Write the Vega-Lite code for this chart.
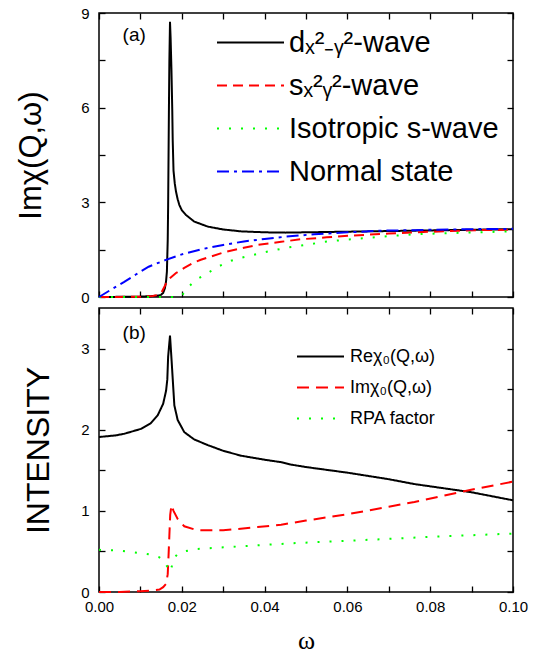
{
  "$schema": "https://vega.github.io/schema/vega-lite/v6.json",
  "padding": {"left": 14, "top": 5, "right": 5, "bottom": 5},
  "spacing": 0,
  "resolve": {"scale": {"color": "independent", "strokeDash": "independent"}, "legend": {"color": "independent", "strokeDash": "independent"}},
  "config": {
    "font": "Liberation Sans",
    "view": {"stroke": "black", "strokeWidth": 1.5},
    "axis": {
      "domain": false,
      "grid": false,
      "labelFont": "Liberation Sans",
      "labelFontSize": 15,
      "labelColor": "black",
      "labelFlush": false,
      "labelOverlap": false,
      "tickColor": "black",
      "tickWidth": 1.3,
      "tickSize": -6,
      "labelPadding": 16,
      "titleColor": "black",
      "titleFontWeight": "normal",
      "titleFont": "Liberation Sans"
    },
    "legend": {
      "labelFont": "Liberation Sans",
      "labelColor": "black",
      "labelLimit": 400,
      "symbolType": "stroke",
      "symbolStrokeWidth": 2
    }
  },
  "datasets": {
    "a": [
      {"s": "d", "w": 0, "v": 0},
      {"s": "d", "w": 0.005, "v": 0.005},
      {"s": "d", "w": 0.01, "v": 0.012},
      {"s": "d", "w": 0.013, "v": 0.03},
      {"s": "d", "w": 0.0145, "v": 0.05},
      {"s": "d", "w": 0.015, "v": 0.07},
      {"s": "d", "w": 0.0155, "v": 0.13},
      {"s": "d", "w": 0.0159, "v": 0.27},
      {"s": "d", "w": 0.0162, "v": 0.5},
      {"s": "d", "w": 0.0164, "v": 0.8},
      {"s": "d", "w": 0.0166, "v": 1.8},
      {"s": "d", "w": 0.0167, "v": 2.9},
      {"s": "d", "w": 0.0168, "v": 4.5},
      {"s": "d", "w": 0.0169, "v": 6.1},
      {"s": "d", "w": 0.017, "v": 7.5},
      {"s": "d", "w": 0.01715, "v": 8.72},
      {"s": "d", "w": 0.0173, "v": 8.2},
      {"s": "d", "w": 0.0175, "v": 7.2},
      {"s": "d", "w": 0.0177, "v": 5.9},
      {"s": "d", "w": 0.0178, "v": 5.0},
      {"s": "d", "w": 0.018, "v": 4.0},
      {"s": "d", "w": 0.0183, "v": 3.6},
      {"s": "d", "w": 0.0186, "v": 3.34},
      {"s": "d", "w": 0.019, "v": 3.1},
      {"s": "d", "w": 0.0194, "v": 2.92},
      {"s": "d", "w": 0.02, "v": 2.75},
      {"s": "d", "w": 0.021, "v": 2.6},
      {"s": "d", "w": 0.023, "v": 2.39},
      {"s": "d", "w": 0.0263, "v": 2.23},
      {"s": "d", "w": 0.03, "v": 2.14},
      {"s": "d", "w": 0.0343, "v": 2.08},
      {"s": "d", "w": 0.04, "v": 2.05},
      {"s": "d", "w": 0.045, "v": 2.04},
      {"s": "d", "w": 0.05, "v": 2.05},
      {"s": "d", "w": 0.06, "v": 2.07},
      {"s": "d", "w": 0.07, "v": 2.09},
      {"s": "d", "w": 0.08, "v": 2.11},
      {"s": "d", "w": 0.09, "v": 2.13},
      {"s": "d", "w": 0.1, "v": 2.15},
      {"s": "s", "w": 0, "v": 0},
      {"s": "s", "w": 0.005, "v": 0.003},
      {"s": "s", "w": 0.01, "v": 0.01},
      {"s": "s", "w": 0.013, "v": 0.03},
      {"s": "s", "w": 0.014, "v": 0.06},
      {"s": "s", "w": 0.015, "v": 0.12},
      {"s": "s", "w": 0.0154, "v": 0.22},
      {"s": "s", "w": 0.0162, "v": 0.43},
      {"s": "s", "w": 0.017, "v": 0.58},
      {"s": "s", "w": 0.0186, "v": 0.76},
      {"s": "s", "w": 0.0206, "v": 0.92},
      {"s": "s", "w": 0.023, "v": 1.1},
      {"s": "s", "w": 0.0246, "v": 1.18},
      {"s": "s", "w": 0.0303, "v": 1.42},
      {"s": "s", "w": 0.035, "v": 1.56},
      {"s": "s", "w": 0.0383, "v": 1.65},
      {"s": "s", "w": 0.044, "v": 1.75},
      {"s": "s", "w": 0.0488, "v": 1.83},
      {"s": "s", "w": 0.055, "v": 1.89},
      {"s": "s", "w": 0.0601, "v": 1.94},
      {"s": "s", "w": 0.07, "v": 2.01},
      {"s": "s", "w": 0.0762, "v": 2.05},
      {"s": "s", "w": 0.085, "v": 2.09},
      {"s": "s", "w": 0.0923, "v": 2.12},
      {"s": "s", "w": 0.1, "v": 2.13},
      {"s": "iso", "w": 0, "v": 0},
      {"s": "iso", "w": 0.01, "v": 0},
      {"s": "iso", "w": 0.019, "v": 0},
      {"s": "iso", "w": 0.0197, "v": 0.03},
      {"s": "iso", "w": 0.0202, "v": 0.08},
      {"s": "iso", "w": 0.0212, "v": 0.25},
      {"s": "iso", "w": 0.0226, "v": 0.45},
      {"s": "iso", "w": 0.0242, "v": 0.6},
      {"s": "iso", "w": 0.0258, "v": 0.72},
      {"s": "iso", "w": 0.0287, "v": 0.96},
      {"s": "iso", "w": 0.0319, "v": 1.15},
      {"s": "iso", "w": 0.0345, "v": 1.25},
      {"s": "iso", "w": 0.0371, "v": 1.33},
      {"s": "iso", "w": 0.04, "v": 1.42},
      {"s": "iso", "w": 0.0456, "v": 1.57},
      {"s": "iso", "w": 0.05, "v": 1.65},
      {"s": "iso", "w": 0.0544, "v": 1.75},
      {"s": "iso", "w": 0.06, "v": 1.82},
      {"s": "iso", "w": 0.0653, "v": 1.88},
      {"s": "iso", "w": 0.07, "v": 1.93},
      {"s": "iso", "w": 0.0766, "v": 1.99},
      {"s": "iso", "w": 0.0883, "v": 2.04},
      {"s": "iso", "w": 0.1, "v": 2.08},
      {"s": "n", "w": 0, "v": 0},
      {"s": "n", "w": 0.003, "v": 0.24},
      {"s": "n", "w": 0.006, "v": 0.47},
      {"s": "n", "w": 0.009, "v": 0.72},
      {"s": "n", "w": 0.012, "v": 0.96},
      {"s": "n", "w": 0.016, "v": 1.17},
      {"s": "n", "w": 0.02, "v": 1.35},
      {"s": "n", "w": 0.025, "v": 1.52},
      {"s": "n", "w": 0.03, "v": 1.65},
      {"s": "n", "w": 0.035, "v": 1.76},
      {"s": "n", "w": 0.04, "v": 1.84},
      {"s": "n", "w": 0.045, "v": 1.91},
      {"s": "n", "w": 0.052, "v": 1.99},
      {"s": "n", "w": 0.06, "v": 2.05},
      {"s": "n", "w": 0.068, "v": 2.1},
      {"s": "n", "w": 0.08, "v": 2.13},
      {"s": "n", "w": 0.09, "v": 2.15},
      {"s": "n", "w": 0.1, "v": 2.16}
    ],
    "b": [
      {"c": "re", "w": 0, "v": 1.91},
      {"c": "re", "w": 0.004, "v": 1.93},
      {"c": "re", "w": 0.0061, "v": 1.95},
      {"c": "re", "w": 0.0101, "v": 2.01},
      {"c": "re", "w": 0.0125, "v": 2.08},
      {"c": "re", "w": 0.0142, "v": 2.18},
      {"c": "re", "w": 0.0155, "v": 2.32},
      {"c": "re", "w": 0.0162, "v": 2.48},
      {"c": "re", "w": 0.0165, "v": 2.62},
      {"c": "re", "w": 0.0167, "v": 2.9},
      {"c": "re", "w": 0.01715, "v": 3.16},
      {"c": "re", "w": 0.01755, "v": 2.84},
      {"c": "re", "w": 0.0182, "v": 2.3},
      {"c": "re", "w": 0.019, "v": 2.12},
      {"c": "re", "w": 0.0206, "v": 1.97},
      {"c": "re", "w": 0.023, "v": 1.88},
      {"c": "re", "w": 0.0263, "v": 1.81},
      {"c": "re", "w": 0.03, "v": 1.74},
      {"c": "re", "w": 0.0343, "v": 1.68},
      {"c": "re", "w": 0.04, "v": 1.63},
      {"c": "re", "w": 0.044, "v": 1.6},
      {"c": "re", "w": 0.0464, "v": 1.57},
      {"c": "re", "w": 0.05, "v": 1.54},
      {"c": "re", "w": 0.0601, "v": 1.47},
      {"c": "re", "w": 0.07, "v": 1.39},
      {"c": "re", "w": 0.0762, "v": 1.33},
      {"c": "re", "w": 0.0899, "v": 1.23},
      {"c": "re", "w": 0.1, "v": 1.13},
      {"c": "im", "w": 0, "v": 0},
      {"c": "im", "w": 0.005, "v": 0},
      {"c": "im", "w": 0.01, "v": 0.01},
      {"c": "im", "w": 0.013, "v": 0.02},
      {"c": "im", "w": 0.0146, "v": 0.03},
      {"c": "im", "w": 0.0155, "v": 0.06},
      {"c": "im", "w": 0.0162, "v": 0.1},
      {"c": "im", "w": 0.0166, "v": 0.22},
      {"c": "im", "w": 0.0168, "v": 0.45},
      {"c": "im", "w": 0.017, "v": 0.7},
      {"c": "im", "w": 0.0172, "v": 0.95},
      {"c": "im", "w": 0.0175, "v": 1.07},
      {"c": "im", "w": 0.018, "v": 1.0},
      {"c": "im", "w": 0.019, "v": 0.9},
      {"c": "im", "w": 0.0206, "v": 0.81},
      {"c": "im", "w": 0.0238, "v": 0.76},
      {"c": "im", "w": 0.03, "v": 0.76},
      {"c": "im", "w": 0.0383, "v": 0.8},
      {"c": "im", "w": 0.044, "v": 0.83},
      {"c": "im", "w": 0.05, "v": 0.88},
      {"c": "im", "w": 0.0601, "v": 0.96},
      {"c": "im", "w": 0.07, "v": 1.05},
      {"c": "im", "w": 0.0762, "v": 1.11},
      {"c": "im", "w": 0.0899, "v": 1.26},
      {"c": "im", "w": 0.1, "v": 1.36},
      {"c": "rpa", "w": 0, "v": 0.52},
      {"c": "rpa", "w": 0.005, "v": 0.51},
      {"c": "rpa", "w": 0.01, "v": 0.48},
      {"c": "rpa", "w": 0.0125, "v": 0.46},
      {"c": "rpa", "w": 0.0145, "v": 0.43},
      {"c": "rpa", "w": 0.0158, "v": 0.38},
      {"c": "rpa", "w": 0.0166, "v": 0.3},
      {"c": "rpa", "w": 0.0172, "v": 0.25},
      {"c": "rpa", "w": 0.0176, "v": 0.32},
      {"c": "rpa", "w": 0.018, "v": 0.41},
      {"c": "rpa", "w": 0.019, "v": 0.47},
      {"c": "rpa", "w": 0.0206, "v": 0.5},
      {"c": "rpa", "w": 0.0234, "v": 0.53},
      {"c": "rpa", "w": 0.03, "v": 0.55},
      {"c": "rpa", "w": 0.0464, "v": 0.6},
      {"c": "rpa", "w": 0.0681, "v": 0.65},
      {"c": "rpa", "w": 0.08, "v": 0.68},
      {"c": "rpa", "w": 0.1, "v": 0.72}
    ],
    "labels": [{"t": "(a)"}, {"t": "(b)"}]
  },
  "vconcat": [
    {
      "width": 414,
      "height": 284,
      "layer": [
        {
          "data": {"name": "a"},
          "mark": {"type": "line", "strokeWidth": 2},
          "encoding": {
            "x": {"field": "w", "type": "quantitative", "scale": {"domain": [0, 0.1], "nice": false, "zero": false},
              "axis": {"orient": "bottom", "labels": false, "title": null, "values": [0, 0.01, 0.02, 0.03, 0.04, 0.05, 0.06, 0.07, 0.08, 0.09, 0.1]}},
            "y": {"field": "v", "type": "quantitative", "scale": {"domain": [0, 9], "nice": false},
              "axis": {"title": "Imχ(Q,ω)", "titleFontSize": 31, "titlePadding": 33, "values": [0, 1.5, 3, 4.5, 6, 7.5, 9],
                "labelExpr": "datum.value % 3 == 0 ? format(datum.value, 'd') : ''"}},
            "color": {"field": "s", "type": "nominal",
              "scale": {"domain": ["d", "s", "iso", "n"], "range": ["#000000", "#ff0000", "#00ff00", "#0000ff"]},
              "legend": {"orient": "none", "legendX": 117, "legendY": 8, "title": null, "symbolSize": 4489, "labelFontSize": 29, "labelOffset": 4, "rowPadding": 0, "clipHeight": 43,
                "labelExpr": "datum.value == 'd' ? 'dₓ²₋ᵧ²-wave' : datum.value == 's' ? 'sₓ²ᵧ²-wave' : datum.value == 'iso' ? 'Isotropic s-wave' : 'Normal state'"}},
            "strokeDash": {"field": "s", "type": "nominal",
              "scale": {"domain": ["d", "s", "iso", "n"], "range": [[1, 0], [10, 6], [2, 10], [12, 5, 3, 5]]},
              "legend": {"orient": "none", "legendX": 117, "legendY": 8, "title": null, "symbolSize": 4489, "labelFontSize": 29, "labelOffset": 4, "rowPadding": 0, "clipHeight": 43,
                "labelExpr": "datum.value == 'd' ? 'dₓ²₋ᵧ²-wave' : datum.value == 's' ? 'sₓ²ᵧ²-wave' : datum.value == 'iso' ? 'Isotropic s-wave' : 'Normal state'"}}
          }
        },
        {
          "data": {"name": "a"},
          "mark": {"type": "line", "opacity": 0},
          "encoding": {
            "x": {"field": "w", "type": "quantitative", "axis": {"orient": "top", "labels": false, "title": null, "values": [0, 0.01, 0.02, 0.03, 0.04, 0.05, 0.06, 0.07, 0.08, 0.09, 0.1]}},
            "y": {"field": "v", "type": "quantitative", "axis": {"orient": "right", "labels": false, "title": null, "values": [0, 1.5, 3, 4.5, 6, 7.5, 9]}},
            "detail": {"field": "s"}
          }
        },
        {
          "data": {"name": "labels"},
          "transform": [{"filter": "datum.t == '(a)'"}],
          "mark": {"type": "text", "fontSize": 19, "font": "Liberation Sans", "color": "black"},
          "encoding": {
            "x": {"datum": 0.0085, "type": "quantitative", "axis": null},
            "y": {"datum": 8.3, "type": "quantitative", "axis": null},
            "text": {"field": "t"}
          }
        }
      ],
      "resolve": {"axis": {"x": "independent", "y": "independent"}}
    },
    {
      "width": 414,
      "height": 284,
      "layer": [
        {
          "data": {"name": "b"},
          "mark": {"type": "line", "strokeWidth": 2},
          "encoding": {
            "x": {"field": "w", "type": "quantitative", "scale": {"domain": [0, 0.1], "nice": false, "zero": false},
              "axis": {"orient": "bottom", "title": "ω", "titleFont": "Liberation Serif", "titleFontSize": 26, "titlePadding": 13, "labelPadding": 13,
                "values": [0, 0.01, 0.02, 0.03, 0.04, 0.05, 0.06, 0.07, 0.08, 0.09, 0.1],
                "labelExpr": "round(datum.value * 100) % 2 == 0 ? format(datum.value, '.2f') : ''"}},
            "y": {"field": "v", "type": "quantitative", "scale": {"domain": [0, 3.5], "nice": false},
              "axis": {"title": "INTENSITY", "titleFontSize": 32, "titlePadding": 25, "values": [0, 0.5, 1, 1.5, 2, 2.5, 3],
                "labelExpr": "datum.value % 1 == 0 ? format(datum.value, 'd') : ''"}},
            "color": {"field": "c", "type": "nominal",
              "scale": {"domain": ["re", "im", "rpa"], "range": ["#000000", "#ff0000", "#00ff00"]},
              "legend": {"orient": "none", "legendX": 197, "legendY": 33, "title": null, "symbolSize": 2209, "labelFontSize": 18, "labelOffset": 5, "rowPadding": 0, "clipHeight": 31,
                "labelExpr": "datum.value == 're' ? 'Reχ₀(Q,ω)' : datum.value == 'im' ? 'Imχ₀(Q,ω)' : 'RPA factor'"}},
            "strokeDash": {"field": "c", "type": "nominal",
              "scale": {"domain": ["re", "im", "rpa"], "range": [[1, 0], [12, 7], [2, 10]]},
              "legend": {"orient": "none", "legendX": 197, "legendY": 33, "title": null, "symbolSize": 2209, "labelFontSize": 18, "labelOffset": 5, "rowPadding": 0, "clipHeight": 31,
                "labelExpr": "datum.value == 're' ? 'Reχ₀(Q,ω)' : datum.value == 'im' ? 'Imχ₀(Q,ω)' : 'RPA factor'"}}
          }
        },
        {
          "data": {"name": "b"},
          "mark": {"type": "line", "opacity": 0},
          "encoding": {
            "x": {"field": "w", "type": "quantitative", "axis": {"orient": "top", "labels": false, "title": null, "values": [0, 0.01, 0.02, 0.03, 0.04, 0.05, 0.06, 0.07, 0.08, 0.09, 0.1]}},
            "y": {"field": "v", "type": "quantitative", "axis": {"orient": "right", "labels": false, "title": null, "values": [0, 0.5, 1, 1.5, 2, 2.5, 3]}},
            "detail": {"field": "c"}
          }
        },
        {
          "data": {"name": "labels"},
          "transform": [{"filter": "datum.t == '(b)'"}],
          "mark": {"type": "text", "fontSize": 19, "font": "Liberation Sans", "color": "black"},
          "encoding": {
            "x": {"datum": 0.0085, "type": "quantitative", "axis": null},
            "y": {"datum": 3.19, "type": "quantitative", "axis": null},
            "text": {"field": "t"}
          }
        }
      ],
      "resolve": {"axis": {"x": "independent", "y": "independent"}}
    }
  ]
}
